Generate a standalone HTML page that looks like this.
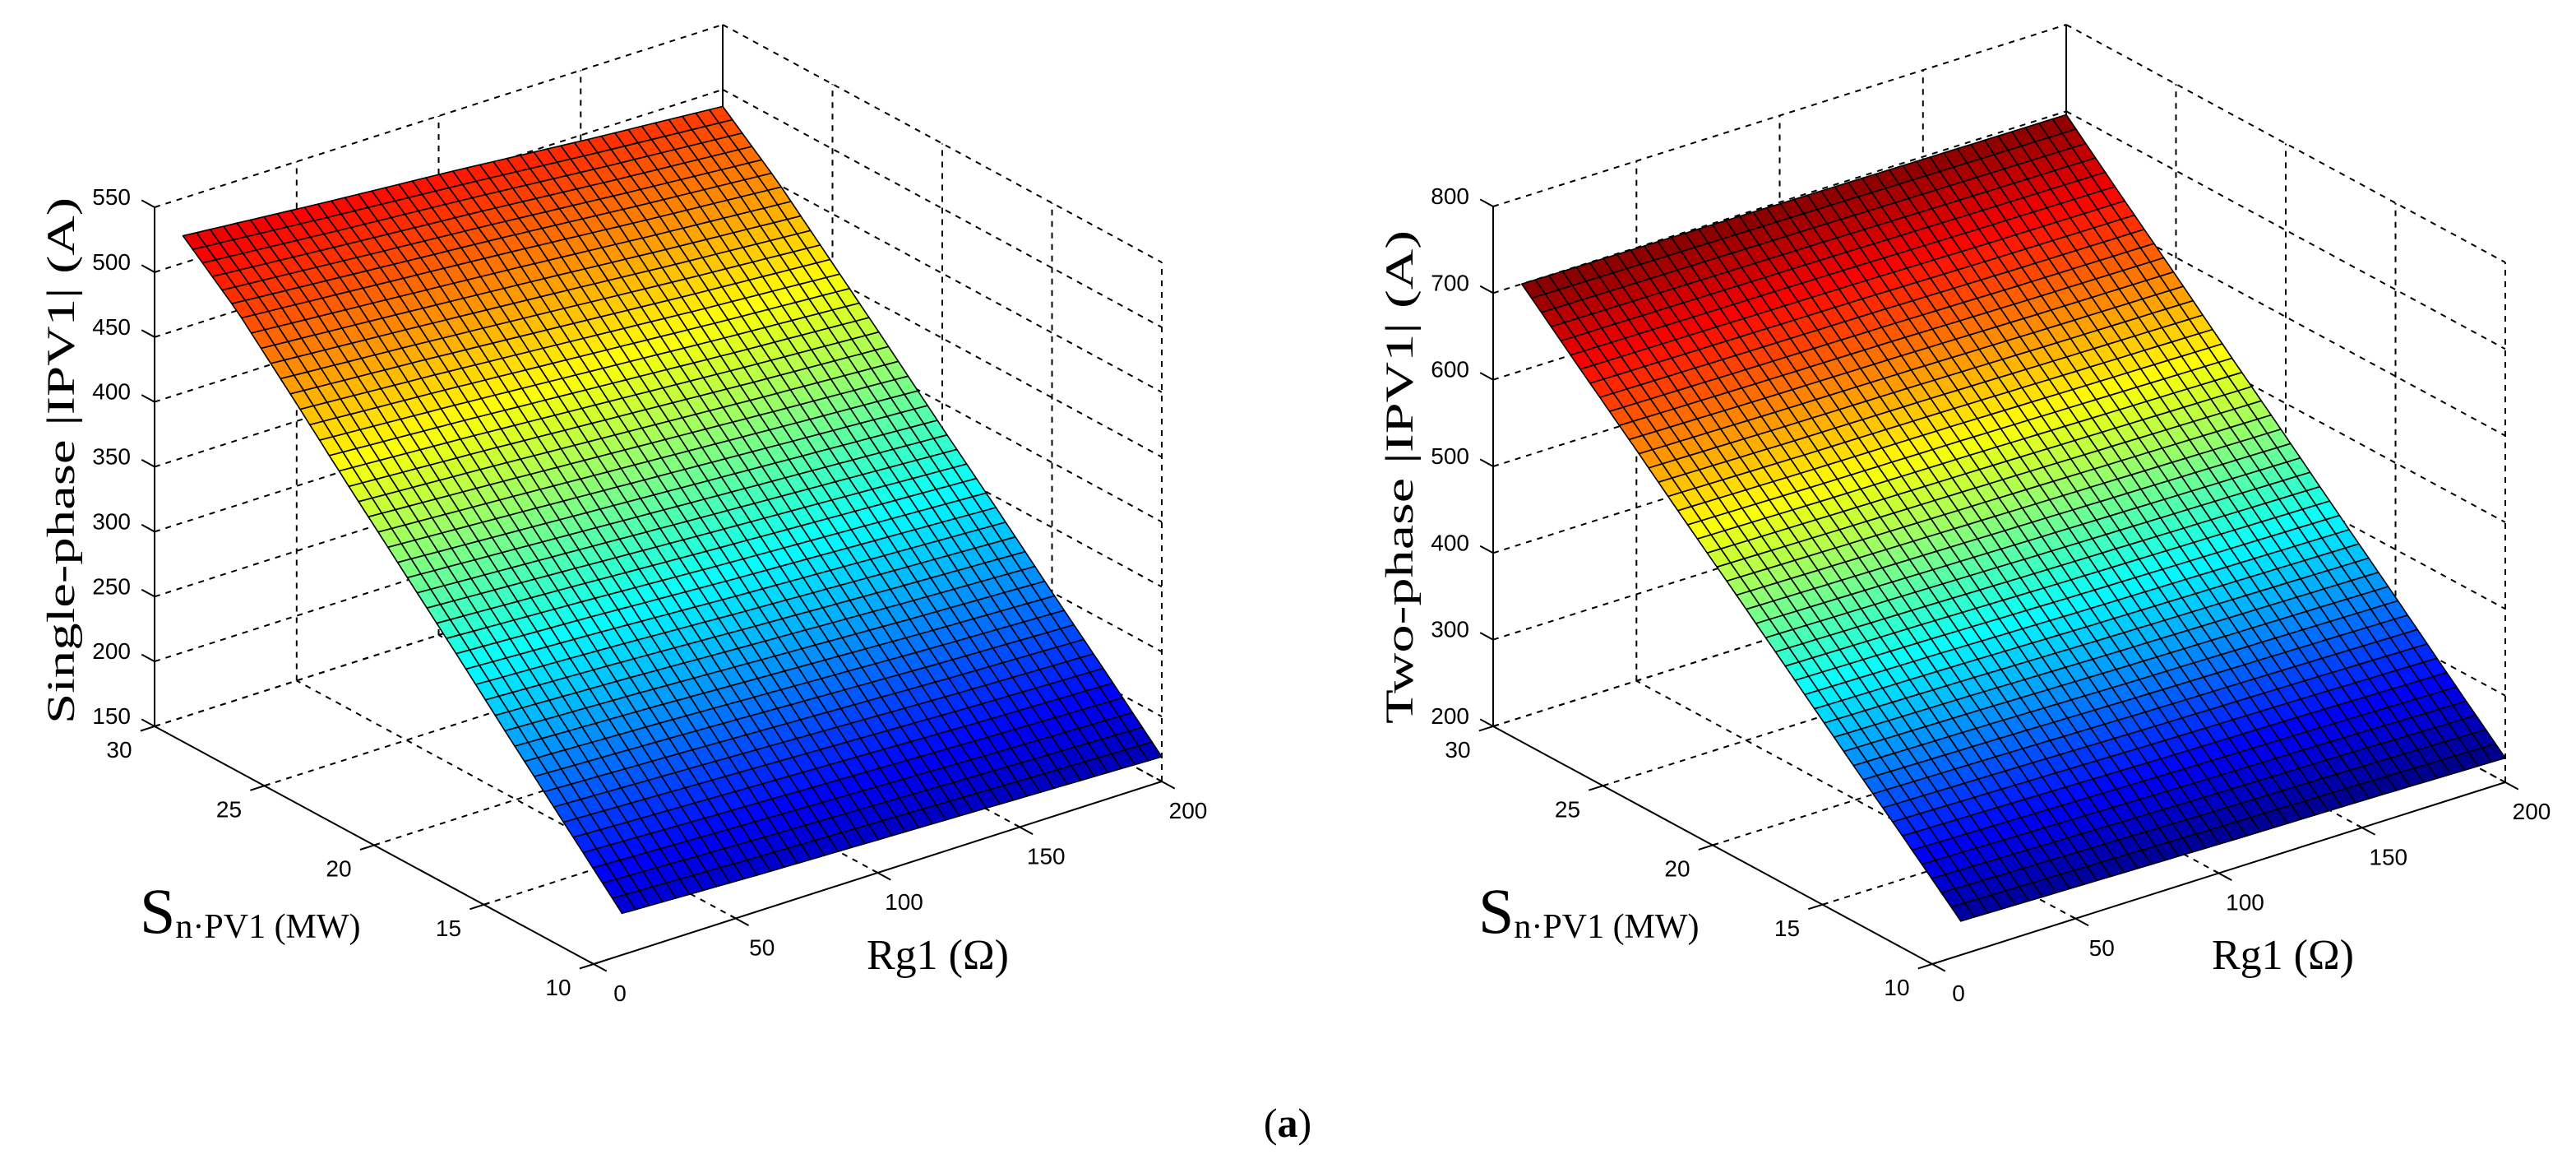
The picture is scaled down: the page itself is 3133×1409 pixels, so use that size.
<!DOCTYPE html>
<html><head><meta charset="utf-8"><style>
html,body{margin:0;padding:0;background:#fff;}
svg{display:block;}
text{font-family:"Liberation Sans",sans-serif;}
.serif{font-family:"Liberation Serif",serif;}
</style></head>
<body>
<svg id="fig" width="3133" height="1409" viewBox="0 0 3133 1409" xmlns="http://www.w3.org/2000/svg">
<rect width="3133" height="1409" fill="#fff"/>
<g id="plotL"></g>
<g id="plotR"></g>
<text class="serif" transform="translate(90,880) rotate(-90)" font-size="48" textLength="640" lengthAdjust="spacingAndGlyphs">Single-phase |IPV1|  (A)</text>
<text class="serif" transform="translate(1718,880) rotate(-90)" font-size="48" textLength="600" lengthAdjust="spacingAndGlyphs">Two-phase |IPV1|  (A)</text>
<text class="serif" x="170" y="1134"><tspan font-size="78">S</tspan><tspan font-size="42" dy="6">n·PV1 (MW)</tspan></text>
<text class="serif" x="1798" y="1134"><tspan font-size="78">S</tspan><tspan font-size="42" dy="6">n·PV1 (MW)</tspan></text>
<text class="serif" x="1054" y="1178" font-size="52">Rg1 (Ω)</text>
<text class="serif" x="2690" y="1178" font-size="52">Rg1 (Ω)</text>
<text class="serif" x="1566" y="1382" font-size="50" text-anchor="middle">(<tspan font-weight="bold">a</tspan>)</text>
</svg>
<script>
// ---- data ----
const sGrid = [10, 12.5, 15, 17.5, 20, 22.5, 25, 27.5, 30];
const rgGrid = [10, 57.5, 105, 152.5, 200];
const leftZ_rg10 = [182, 225, 268, 312, 355, 398, 442, 485, 521];
const leftZ_rg57 = [178, 221, 264, 307, 349, 392, 435, 477, 512];
const leftZ_rg105 = [175, 217, 259, 301, 343, 385, 427, 469, 504];
const leftZ_rg152 = [172, 213, 254, 296, 337, 378, 419, 460, 495];
const leftZ_rg200 = [169, 210, 250, 291, 331, 372, 412, 452, 487];
const rightZ_rg10 = [239, 297, 354, 412, 470, 527, 585, 642, 700];
const rightZ_rg57 = [236, 294, 352, 410, 468, 525, 583, 641, 699];
const rightZ_rg105 = [233, 291, 349, 407, 466, 524, 582, 640, 698];
const rightZ_rg152 = [231, 289, 347, 405, 464, 522, 580, 638, 697];
const rightZ_rg200 = [228, 286, 345, 403, 462, 520, 579, 637, 696];
const leftZTicks = [150, 200, 250, 300, 350, 400, 450, 500, 550];
const rightZTicks = [200, 300, 400, 500, 600, 700, 800];
const sTicks = [10, 15, 20, 25, 30];
const rgTicks = [0, 50, 100, 150, 200];

const NS = "http://www.w3.org/2000/svg";
function jet(t){
  t = Math.max(0, Math.min(1, t));
  const c = v => Math.round(255 * Math.max(0, Math.min(1, v)));
  return `rgb(${c(1.5-Math.abs(4*t-3))},${c(1.5-Math.abs(4*t-2))},${c(1.5-Math.abs(4*t-1))})`;
}
function mk(parent, tag, attrs){
  const e = document.createElementNS(NS, tag);
  for (const k in attrs) e.setAttribute(k, attrs[k]);
  parent.appendChild(e);
  return e;
}
function interpCol(arr, s){
  let i = 0;
  while (i < sGrid.length - 2 && s > sGrid[i+1]) i++;
  const f = (s - sGrid[i]) / (sGrid[i+1] - sGrid[i]);
  return arr[i] + (arr[i+1] - arr[i]) * f;
}
function zAt(cols, rg, s){
  let j = 0;
  while (j < rgGrid.length - 2 && rg > rgGrid[j+1]) j++;
  const f = (rg - rgGrid[j]) / (rgGrid[j+1] - rgGrid[j]);
  const a = interpCol(cols[j], s), b = interpCol(cols[j+1], s);
  return a + (b - a) * f;
}

function drawPlot(g, cfg){
  const P = (rg, s, z) => [
    cfg.O[0] + cfg.ex[0]*(rg/200) + cfg.ey[0]*((s-10)/20),
    cfg.O[1] + cfg.ex[1]*(rg/200) + cfg.ey[1]*((s-10)/20) + cfg.ezLen*(-(z-cfg.zmin)/(cfg.zmax-cfg.zmin))
  ];
  const line = (a, b, dashed, name, w) => {
    const l = mk(g, 'line', {x1:a[0].toFixed(1), y1:a[1].toFixed(1), x2:b[0].toFixed(1), y2:b[1].toFixed(1),
      stroke:'#000', 'stroke-width': w || 2, 'stroke-dasharray': dashed ? '7 7' : 'none'});
    
    
    return l;
  };
  const zt = cfg.zTicks, zmin = cfg.zmin, zmax = cfg.zmax;
  // back walls grid
  zt.forEach(z => {
    line(P(0,30,z), P(200,30,z), true, 'wall-gridline');
    line(P(200,30,z), P(200,10,z), true, 'wall-gridline');
  });
  rgTicks.forEach(rg => { if (rg > 0 && rg < 200) line(P(rg,30,zmin), P(rg,30,zmax), true, 'wall-gridline'); });
  sTicks.forEach(s => { if (s < 30) line(P(200,s,zmin), P(200,s,zmax), true, 'wall-gridline'); });
  // floor grid
  rgTicks.forEach(rg => { if (rg > 0) line(P(rg,10,zmin), P(rg,30,zmin), true, 'floor-gridline'); });
  sTicks.forEach(s => { if (s > 10) line(P(0,s,zmin), P(200,s,zmin), true, 'floor-gridline'); });
  line(P(200,30,zmin), P(200,30,zmax), false, 'back-edge');

  // surface
  const nR = 40, nS = 45;
  const rg0 = 10, rg1 = 200;
  const surf = mk(g, 'g', {});
  
  
  for (let i = nS - 1; i >= 0; i--) {
    for (let j = nR - 1; j >= 0; j--) {
      const sA = 10 + 20*i/nS, sB = 10 + 20*(i+1)/nS;
      const rA = rg0 + (rg1-rg0)*j/nR, rB = rg0 + (rg1-rg0)*(j+1)/nR;
      const z1 = zAt(cfg.cols, rA, sA), z2 = zAt(cfg.cols, rB, sA), z3 = zAt(cfg.cols, rB, sB), z4 = zAt(cfg.cols, rA, sB);
      const pts = [P(rA,sA,z1), P(rB,sA,z2), P(rB,sB,z3), P(rA,sB,z4)].map(p => p[0].toFixed(1)+','+p[1].toFixed(1)).join(' ');
      const zc = (z1+z2+z3+z4)/4;
      const poly = mk(surf, 'polygon', {points: pts, fill: jet((zc - cfg.cmin)/(cfg.cmax - cfg.cmin)), stroke:'#000', 'stroke-width':1.6, 'stroke-linejoin':'round'});
      
      
    }
  }

  // axes
  line(P(0,30,zmin), P(0,30,zmax), false, 'z-axis-line');
  line(P(0,10,zmin), P(0,30,zmin), false, 's-axis-line');
  line(P(0,10,zmin), P(200,10,zmin), false, 'rg-axis-line');
  const exn = Math.hypot(cfg.ex[0], cfg.ex[1]), eyn = Math.hypot(cfg.ey[0], cfg.ey[1]);
  const ux = [cfg.ex[0]/exn, cfg.ex[1]/exn], uy = [cfg.ey[0]/eyn, cfg.ey[1]/eyn];
  const T = 18;
  zt.forEach(z => {
    const p = P(0,30,z);
    line(p, [p[0]+uy[0]*T, p[1]+uy[1]*T], false, 'z-tick');
    const t = mk(g, 'text', {x: p[0]-29, y: p[1]-3, 'font-size': 28, 'text-anchor':'end'});
    t.textContent = z;
    
    
  });
  sTicks.forEach(s => {
    const p = P(0,s,zmin);
    line([p[0]-ux[0]*T, p[1]-ux[1]*T], [p[0]+ux[0]*T*0.4, p[1]+ux[1]*T*0.4], false, 's-tick');
    const t = mk(g, 'text', {x: p[0]-43, y: p[1]+38, 'font-size': 28, 'text-anchor':'middle'});
    t.textContent = s;
    
    
  });
  rgTicks.forEach(rg => {
    const p = P(rg,10,zmin);
    line([p[0]-uy[0]*T, p[1]-uy[1]*T], [p[0]+uy[0]*T*0.4, p[1]+uy[1]*T*0.4], false, 'rg-tick');
    const t = mk(g, 'text', {x: p[0]+32, y: p[1]+45, 'font-size': 28, 'text-anchor':'middle'});
    t.textContent = rg;
    
    
  });
}

drawPlot(document.getElementById('plotL'), {
  O:[722,1172], ex:[691,-222], ey:[-534,-289], ezLen:631, zmin:150, zmax:550,
  zTicks: leftZTicks, cmin:150, cmax:562,
  cols:[leftZ_rg10, leftZ_rg57, leftZ_rg105, leftZ_rg152, leftZ_rg200]
});
drawPlot(document.getElementById('plotR'), {
  O:[2350,1172], ex:[697,-221], ey:[-534,-289], ezLen:632, zmin:200, zmax:800,
  zTicks: rightZTicks, cmin:228, cmax:700,
  cols:[rightZ_rg10, rightZ_rg57, rightZ_rg105, rightZ_rg152, rightZ_rg200]
});
</script>
</body></html>
